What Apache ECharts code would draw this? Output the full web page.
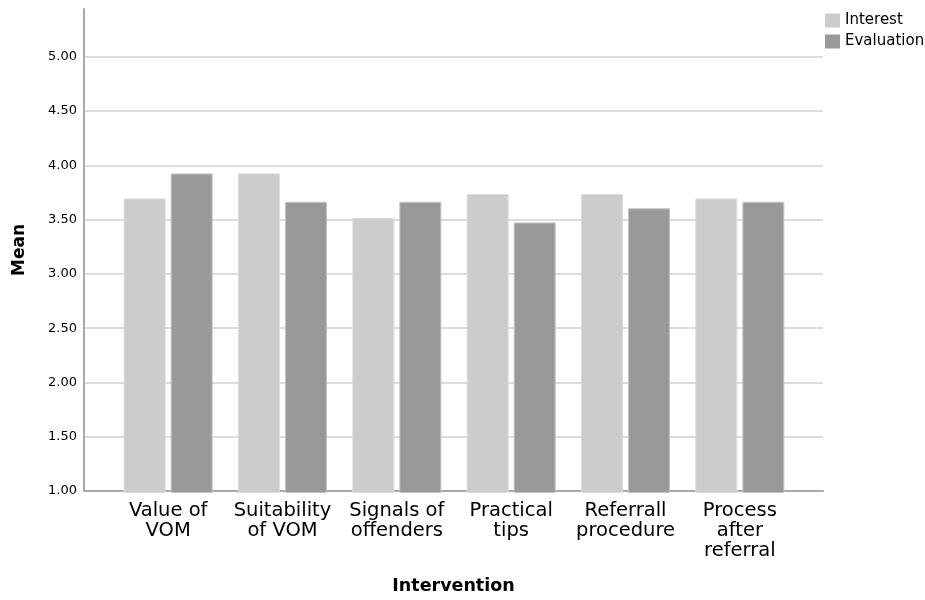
<!DOCTYPE html>
<html>
<head>
<meta charset="utf-8">
<script src="https://cdn.jsdelivr.net/npm/echarts@6/dist/echarts.min.js"></script>
<style>html,body{margin:0;padding:0;background:#fff;}#c{width:925px;height:600px;}</style>
</head>
<body>
<div id="c"></div>
<script>
const categories = ['Value of\nVOM', 'Suitability\nof VOM', 'Signals of\noffenders', 'Practical\ntips', 'Referrall\nprocedure', 'Process\nafter\nreferral'];
const interest = [3.70, 3.93, 3.52, 3.74, 3.74, 3.70];
const evaluation = [3.93, 3.67, 3.67, 3.48, 3.61, 3.67];
const yTicks = [1.00, 1.50, 2.00, 2.50, 3.00, 3.50, 4.00, 4.50, 5.00];

const FONT = 'DejaVu Sans';
const chart = echarts.init(document.getElementById('c'));
const yMin = 1, yMax = 5.44;
chart.setOption({
  animation: false,
  textStyle: { fontFamily: FONT },
  legend: {
    orient: 'vertical', left: 825, top: 13, padding: 0,
    icon: 'rect', itemWidth: 15, itemHeight: 14, itemGap: 6,
    itemStyle: { borderWidth: 0 },
    textStyle: { fontSize: 15, color: '#000', fontFamily: FONT },
    data: ['Interest', 'Evaluation']
  },
  grid: [
    { left: 84, right: 102, top: 9, bottom: 107.5 },
    { left: 111, right: 128, top: 9, bottom: 107.5 }
  ],
  xAxis: [
    { type: 'category', gridIndex: 0, data: categories,
      axisLine: { lineStyle: { color: '#a8a8a8', width: 2 } },
      axisTick: { show: false }, axisLabel: { show: false }, splitLine: { show: false },
      name: 'Intervention', nameLocation: 'middle', nameGap: 86,
      nameTextStyle: { fontSize: 17.5, fontWeight: 'bold', color: '#000', fontFamily: FONT } },
    { type: 'category', gridIndex: 1, data: categories,
      axisLine: { show: false }, axisTick: { show: false },
      axisLabel: { fontSize: 19.5, color: '#000', margin: 8, lineHeight: 20, interval: 0, fontFamily: FONT } }
  ],
  yAxis: [
    { type: 'value', gridIndex: 0, min: yMin, max: yMax, interval: 0.5,
      axisLine: { show: true, lineStyle: { color: '#a8a8a8', width: 2 } },
      axisTick: { show: false },
      axisLabel: { fontSize: 13, color: '#000', margin: 7, showMaxLabel: false, fontFamily: FONT,
        formatter: v => yTicks.some(t => Math.abs(t - v) < 1e-9) ? v.toFixed(2) : '' },
      splitLine: { show: true, showMinLine: false, showMaxLine: false, lineStyle: { color: '#cfcfcf', width: 1.5 } },
      name: 'Mean', nameLocation: 'middle', nameGap: 56, nameRotate: 90,
      nameTextStyle: { fontSize: 17, fontWeight: 'bold', color: '#000', fontFamily: FONT } },
    { type: 'value', gridIndex: 1, min: yMin, max: yMax, show: false, splitLine: { show: false } }
  ],
  series: [
    { name: 'Interest', type: 'bar', xAxisIndex: 1, yAxisIndex: 1, data: interest,
      barWidth: 42, barGap: '12%', itemStyle: { color: '#cccccc', borderColor: '#dcdcdc', borderWidth: 1 } },
    { name: 'Evaluation', type: 'bar', xAxisIndex: 1, yAxisIndex: 1, data: evaluation,
      barWidth: 42, barGap: '12%', itemStyle: { color: '#999999', borderColor: '#c4c4c4', borderWidth: 1 } }
  ]
});
</script>
</body>
</html>
